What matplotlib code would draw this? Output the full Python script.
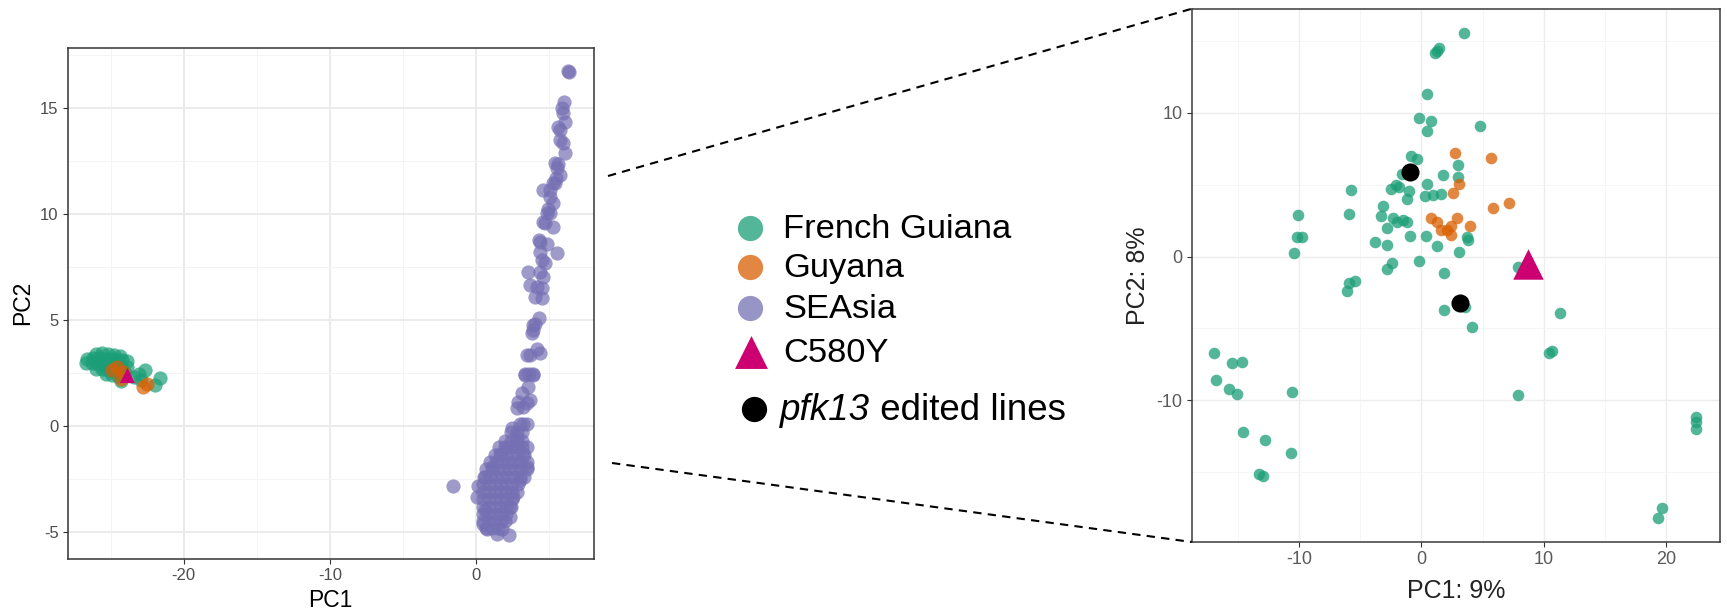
import matplotlib
matplotlib.use("Agg")
import matplotlib.pyplot as plt
from matplotlib.ticker import MultipleLocator
from matplotlib.lines import Line2D

plt.rcParams['font.family'] = ['Liberation Sans', 'DejaVu Sans']
plt.rcParams['axes.unicode_minus'] = False

# ---------------- data ----------------
categories = ["French Guiana", "Guyana", "SEAsia", "C580Y"]
edited_label = ("pfk13", " edited lines")

# Global PCA (left panel)
fg_pc1 = [-26.0, -25.6, -25.2, -24.8, -24.4,
          -26.6, -26.2, -25.8, -25.4, -25.0, -24.6, -24.2, -23.9,
          -26.7, -26.3, -25.9, -25.5, -25.1, -24.7, -24.3, -23.9,
          -26.0, -25.6, -25.2, -24.8, -24.4, -24.0,
          -25.3, -24.9, -24.5, -24.3,
          -23.1, -22.64, -22.95, -21.62, -21.97, -23.4]
fg_pc2 = [3.4, 3.45, 3.4, 3.35, 3.3,
          3.15, 3.2, 3.2, 3.15, 3.15, 3.1, 3.1, 3.05,
          2.95, 2.95, 2.9, 2.9, 2.85, 2.85, 2.8, 2.8,
          2.7, 2.7, 2.65, 2.6, 2.55, 2.5,
          2.45, 2.4, 2.35, 2.1,
          2.47, 2.63, 2.16, 2.24, 1.92, 2.3]

gy_pc1 = [-24.59, -24.14, -24.9, -22.53, -22.77, -24.3]
gy_pc2 = [2.78, 2.55, 2.65, 2.0, 1.84, 2.2]

sea_pc1 = [6.39, 6.35, 6.05, 5.89, 6.0, 6.12, 5.66, 5.75, 5.77, 6.0, 6.12, 5.43,
           5.55, 5.65, 5.77, 5.5, 5.32, 5.46, 4.63, 5.09, 5.32, 5.09, 4.98, 4.86,
           5.09, 4.75, 5.32, 4.6, 4.4, 4.86, 4.31, 5.55, 4.4, 4.52, 4.75, 3.6,
           4.4, 4.63, 3.72, 4.18, 4.52, 4.06, 4.52, 4.31, 4.05, 3.95, 3.84, 3.9,
           4.18, 3.49, 4.4, 3.75, 3.38, 3.95, 3.65, 3.95, 3.38, 3.6, 3.15, 3.72,
           2.92, 3.26, 3.5, 2.85, 3.49, 3.03, 2.47, 3.25, 2.81, 2.12, 1.66, 3.26,
           3.49, 1.1, 3.03, 0.64, 0.18, 0.07, 2.58, 2.35, 0.64, 2.35, 0.52, 0.75,
           1.44, 2.3, 1.78, -1.53,
           2.4, 2.8, 3.2,
           2.0, 2.4, 2.8, 3.2,
           1.6, 2.0, 2.4, 2.8, 3.2, 3.5,
           1.3, 1.7, 2.1, 2.5, 2.9, 3.3,
           1.0, 1.4, 1.8, 2.2, 2.6, 3.0, 3.5,
           0.7, 1.1, 1.5, 1.9, 2.3, 2.7, 3.1, 3.5,
           0.6, 1.0, 1.4, 1.8, 2.2, 2.6, 3.0, 3.3,
           0.5, 0.9, 1.3, 1.7, 2.1, 2.5, 2.9,
           0.5, 0.9, 1.3, 1.7, 2.1, 2.5, 2.8,
           0.5, 0.9, 1.3, 1.7, 2.1, 2.5,
           0.5, 0.9, 1.3, 1.7, 2.1, 2.4,
           0.5, 0.9, 1.3, 1.7, 2.1,
           0.5, 0.9, 1.3, 1.7, 2.0,
           0.7, 1.1, 1.5]
sea_pc2 = [16.7, 16.75, 15.28, 14.97, 14.74, 14.34, 14.1, 13.95, 13.48, 13.32, 12.85, 12.38,
           12.14, 12.35, 11.83, 11.7, 11.43, 11.47, 11.12, 11.12, 10.49, 10.8, 10.25, 10.02,
           10.02, 9.55, 9.39, 9.6, 8.68, 8.6, 8.75, 8.13, 8.21, 7.82, 7.66, 7.26,
           7.26, 7.03, 6.64, 6.56, 6.48, 6.09, 6.01, 5.07, 4.81, 4.75, 4.36, 4.5,
           3.65, 3.33, 3.42, 3.35, 2.47, 2.44, 2.44, 2.39, 2.39, 1.84, 1.53, 1.21,
           1.13, 0.9, 1.1, 0.86, 0.11, 0.11, -0.12, 0.1, -0.52, -0.99, -1.3, -1.3,
           -1.93, -1.93, -2.56, -2.4, -2.84, -3.35, -3.35, -3.82, -3.98, -4.29, -4.6, -4.84,
           -5.08, -5.16, -4.84, -2.84,
           -0.3, -0.3, -0.3,
           -0.7, -0.7, -0.7, -0.7,
           -1.0, -1.0, -1.0, -1.0, -1.0, -1.0,
           -1.35, -1.35, -1.35, -1.35, -1.35, -1.35,
           -1.7, -1.7, -1.7, -1.7, -1.7, -1.7, -1.7,
           -2.05, -2.05, -2.05, -2.05, -2.05, -2.05, -2.05, -2.05,
           -2.4, -2.4, -2.4, -2.4, -2.4, -2.4, -2.4, -2.4,
           -2.75, -2.75, -2.75, -2.75, -2.75, -2.75, -2.75,
           -3.1, -3.1, -3.1, -3.1, -3.1, -3.1, -3.1,
           -3.45, -3.45, -3.45, -3.45, -3.45, -3.45,
           -3.8, -3.8, -3.8, -3.8, -3.8, -3.8,
           -4.15, -4.15, -4.15, -4.15, -4.15,
           -4.5, -4.5, -4.5, -4.5, -4.5,
           -4.8, -4.8, -4.8]

c580y_global = (-23.9, 2.4)

# South-American PCA (right panel)
sa_fg_pc1 = [3.5, 1.47, 1.24, 1.08, 0.49, -0.16, 0.75, 0.49, 4.78, -0.82, -0.39, 3.01,
             -1.57, 1.8, 3.01, 0.43, -5.73, -2.1, -2.45, -1.8, -0.98, -1.15, 0.33, 0.98,
             1.64, -3.11, -5.89, -10.08, -3.27, -2.29, -1.96, -1.47, -2.78, -1.15, -10.15,
             -9.72, -10.41, -3.76, -2.78, -0.95, 0.39, 1.24, 3.76, 3.83, 3.04, -2.39, -2.78,
             -0.16, 1.87, 7.86, -5.89, -5.4, -6.06, 1.87, 3.6, 4.16, 11.29, 10.64, 10.47,
             -16.96, -15.45, -14.67, -16.79, -15.71, -15.06, -10.57, 7.86, -14.57, -12.77,
             -10.64, -13.26, -12.93, 22.42, 22.42, 22.42, 19.64, 19.31]
sa_fg_pc2 = [15.58, 14.5, 14.3, 14.15, 11.33, 9.61, 9.42, 8.73, 9.09, 7.02, 6.8, 6.38,
             5.75, 5.66, 5.55, 5.08, 4.61, 5.0, 4.72, 4.86, 4.59, 4.03, 4.23, 4.31,
             4.36, 3.54, 2.93, 2.9, 2.85, 2.65, 2.38, 2.51, 1.96, 2.43, 1.35,
             1.35, 0.25, 0.99, 0.8, 1.44, 1.44, 0.72, 1.35, 1.16, 0.33, -0.44, -0.88,
             -0.3, -1.13, -0.72, -1.82, -1.71, -2.4, -3.7, -3.5, -4.92, -3.92, -6.55, -6.69,
             -6.71, -7.43, -7.35, -8.62, -9.23, -9.59, -9.45, -9.64, -12.21, -12.76,
             -13.7, -15.11, -15.25, -11.16, -11.49, -11.99, -17.46, -18.2]

sa_gy_pc1 = [2.78, 5.66, 3.04, 2.62, 5.89, 7.14, 0.82, 1.31, 2.95, 2.45, 2.13, 1.64, 2.39, 3.99]
sa_gy_pc2 = [7.21, 6.85, 5.08, 4.45, 3.4, 3.7, 2.65, 2.38, 2.71, 2.15, 1.82, 1.82, 1.49, 2.1]

edited_pc1 = [-0.92, 3.18]
edited_pc2 = [5.91, -3.23]

c580y_sa = (8.74, -0.52)

# ---------------- style ----------------
GREEN = '#1B9E77'
ORANGE = '#D95F02'
PURPLE = '#7570B3'
MAGENTA = '#CC0070'
W, H = 1727, 613

fig = plt.figure(figsize=(W / 100, H / 100), dpi=100)


def px_axes(l, t, r, b):
    return fig.add_axes([l / W, 1 - b / H, (r - l) / W, (b - t) / H])


def ggplot_frame(ax, major_c, minor_c, major_lw, minor_lw, frame_c, tick_fs, tick_c, pad):
    ax.set_axisbelow(True)
    ax.grid(which='major', color=major_c, lw=major_lw)
    ax.grid(which='minor', color=minor_c, lw=minor_lw)
    for s in ax.spines.values():
        s.set_color(frame_c)
        s.set_linewidth(1.1)
    ax.tick_params(which='major', length=3.5, width=0.8, color='#333333',
                   labelsize=tick_fs, labelcolor=tick_c, pad=pad)
    ax.tick_params(which='minor', length=0)


# ---- left: global PCA ----
ax1 = px_axes(67.7, 47.5, 593.7, 558.5)
ax1.set_xlim(-27.95, 8.08)
ax1.set_ylim(-6.25, 17.84)
ax1.xaxis.set_major_locator(MultipleLocator(10))
ax1.xaxis.set_minor_locator(MultipleLocator(5))
ax1.yaxis.set_major_locator(MultipleLocator(5))
ax1.yaxis.set_minor_locator(MultipleLocator(2.5))
ggplot_frame(ax1, '#EBEBEB', '#F4F4F4', 1.4, 0.7, '#333333', 12, '#4D4D4D', 3)

ax1.scatter(sea_pc1, sea_pc2, s=105, color=PURPLE, alpha=0.7, linewidths=0, zorder=3)
ax1.scatter(fg_pc1, fg_pc2, s=105, color=GREEN, alpha=0.7, linewidths=0, zorder=3)
ax1.scatter(gy_pc1, gy_pc2, s=105, color=ORANGE, alpha=0.7, linewidths=0, zorder=4)
ax1.scatter([c580y_global[0]], [c580y_global[1]], s=120, marker='^', color=MAGENTA,
            linewidths=0, zorder=5)
ax1.set_xlabel("PC1", fontsize=16.5, color='black', labelpad=5)
ax1.set_ylabel("PC2", fontsize=16.5, color='black', labelpad=4)

# ---- right: South America PCA ----
ax2 = px_axes(1191.6, 8.8, 1720, 542)
ax2.set_xlim(-18.77, 24.4)
ax2.set_ylim(-19.86, 17.24)
ax2.xaxis.set_major_locator(MultipleLocator(10))
ax2.xaxis.set_minor_locator(MultipleLocator(5))
ax2.yaxis.set_major_locator(MultipleLocator(10))
ax2.yaxis.set_minor_locator(MultipleLocator(5))
ggplot_frame(ax2, '#EDEDED', '#F5F5F5', 1.0, 0.6, '#3A3A3A', 13, '#5A5A5A', 3)

ax2.scatter(sa_fg_pc1, sa_fg_pc2, s=70, color=GREEN, alpha=0.75, linewidths=0, zorder=3)
ax2.scatter(sa_gy_pc1, sa_gy_pc2, s=70, color=ORANGE, alpha=0.75, linewidths=0, zorder=3)
ax2.scatter(edited_pc1, edited_pc2, s=170, color='black', linewidths=0, zorder=5)
ax2.scatter([c580y_sa[0]], [c580y_sa[1]], s=480, marker='^', color=MAGENTA,
            linewidths=0, zorder=5)
ax2.set_xlabel("PC1: 9%", fontsize=18, color='#222222', labelpad=8)
ax2.set_ylabel("PC2: 8%", fontsize=18, color='#222222', labelpad=5)

# ---- overlay: zoom connectors and legend ----
ov = fig.add_axes([0, 0, 1, 1], zorder=10)
ov.set_xlim(0, W)
ov.set_ylim(H, 0)
ov.axis('off')
ov.patch.set_alpha(0)

dash = dict(color='black', lw=1.5, ls=(0, (4, 3)))
ov.add_line(Line2D([608, 1191.6], [176, 8.8], **dash))
ov.add_line(Line2D([612, 1191.6], [463, 542], **dash))

legend_colors = [GREEN, ORANGE, PURPLE]
row_y = [228, 267, 308, 352, 409]
for cy, col, name in zip(row_y[:3], legend_colors, categories[:3]):
    ov.scatter([750], [cy], s=330, color=col, alpha=0.75, linewidths=0)
    ov.text(783, cy + 1, name, fontsize=24.8, va='center', ha='left', color='black')
ov.scatter([751], [row_y[3]], s=560, marker='^', color=MAGENTA, linewidths=0)
ov.text(783, row_y[3] + 1, categories[3], fontsize=24.8, va='center', ha='left', color='black')
ov.scatter([754], [row_y[4]], s=330, color='black', linewidths=0)
t = ov.text(780, row_y[4] + 1, edited_label[0], fontsize=26.5, style='italic',
            va='center', ha='left', color='black')
ov.annotate(edited_label[1], xy=(1, 0.5), xycoords=t, fontsize=26.5, va='center',
            ha='left', color='black')

fig.savefig("out.png", dpi=100, facecolor='white')
